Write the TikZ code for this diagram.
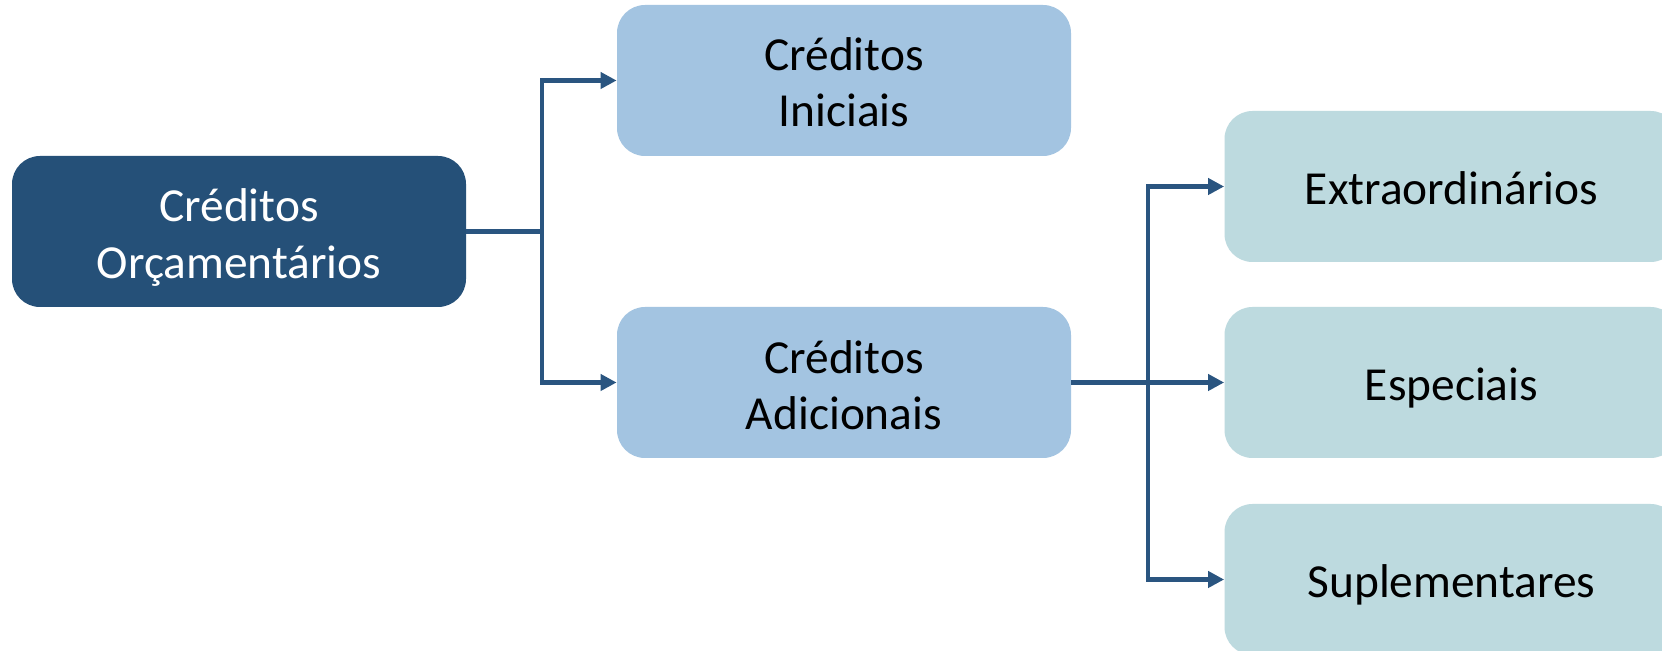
\documentclass[tikz,border=0pt]{standalone}
\usepackage{fontspec}
\setmainfont{Carlito}
\usetikzlibrary{arrows.meta}
\definecolor{darkbox}{HTML}{255078}
\definecolor{lightbox}{HTML}{A3C4E1}
\definecolor{tealbox}{HTML}{BDDADF}
\definecolor{connclr}{HTML}{2A5580}
\tikzset{
  basebox/.style={rounded corners=14pt, minimum width=227pt, minimum height=75.5pt,
    inner sep=0pt},
  mainbox/.style={basebox, fill=darkbox},
  levelone/.style={basebox, fill=lightbox},
  leveltwo/.style={basebox, fill=tealbox},
  lbl/.style={anchor=base, inner sep=0pt, font=\fontsize{23.7}{28}\selectfont, text=black},
  wlbl/.style={lbl, text=white},
  conn/.style={draw=connclr, line width=2.1pt},
  arr/.style={conn, -{Triangle[length=8pt,width=8pt]}}
}
\begin{document}
\begin{tikzpicture}[x=0.5pt,y=-0.5pt]
\clip (0,0) rectangle (1662,651);
\fill[white] (0,0) rectangle (1662,651);
\node[mainbox] (main) at (239,231.5) {};
\node[levelone] (ini) at (844,80.5) {};
\node[levelone] (adi) at (844,382.5) {};
\node[leveltwo] (ext) at (1451.5,186.5) {};
\node[leveltwo] (esp) at (1451.5,382.5) {};
\node[leveltwo] (sup) at (1451.5,579.5) {};
\node[wlbl] (mainA) at (239,221.5) {Créditos};
\node[wlbl] (mainB) at (239,278.5) {Orçamentários};
\node[lbl] (iniA) at (844,71) {Créditos};
\node[lbl] (iniB) at (844,127) {Iniciais};
\node[lbl] (adiA) at (844,373.5) {Créditos};
\node[lbl] (adiB) at (844,429.5) {Adicionais};
\node[lbl] (extA) at (1451.5,204.5) {Extraordinários};
\node[lbl] (espA) at (1451.5,400.5) {Especiais};
\node[lbl] (supA) at (1451.5,597.5) {Suplementares};
\coordinate (j1) at (542,231.5);
\coordinate (j2) at (1148,382.5);
\draw[conn] (main.east) -- (j1);
\draw[arr] (j1) |- (ini.west);
\draw[arr] (j1) |- (adi.west);
\draw[conn] (adi.east) -- (j2);
\draw[arr] (j2) |- (ext.west);
\draw[arr] (j2) -- (esp.west);
\draw[arr] (j2) |- (sup.west);
\end{tikzpicture}
\end{document}
